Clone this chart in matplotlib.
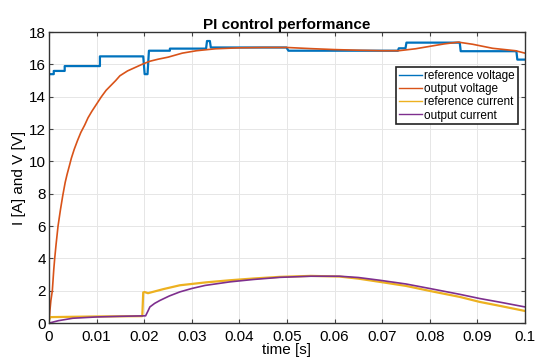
import numpy as np
import matplotlib.pyplot as plt

plt.rcParams['font.family'] = ['Liberation Sans', 'DejaVu Sans']

# reference voltage (stepwise)
t_vref = [0, 0.001, 0.001, 0.0033, 0.0033, 0.0107, 0.0107, 0.0198, 0.0201, 0.0207, 0.021,
          0.0254, 0.0254, 0.033, 0.0332, 0.0338, 0.034, 0.0499, 0.0503, 0.0733, 0.0735,
          0.0749, 0.0751, 0.0863, 0.0865, 0.0982, 0.0984, 0.1]
v_ref = [15.4, 15.4, 15.6, 15.6, 15.9, 15.9, 16.5, 16.5, 15.4, 15.4, 16.85,
         16.85, 16.98, 16.98, 17.45, 17.45, 17.05, 17.05, 16.85, 16.85, 17.0,
         17.0, 17.35, 17.35, 16.82, 16.82, 16.3, 16.3]

# output voltage
t_vout = [0, 0.0002, 0.0004, 0.0007, 0.001, 0.0012, 0.0015, 0.0019, 0.0024, 0.0029, 0.0034,
          0.0038, 0.0043, 0.0047, 0.0053, 0.006, 0.0067, 0.0075, 0.0082, 0.009, 0.01,
          0.011, 0.012, 0.013, 0.014, 0.0149, 0.0165, 0.018, 0.0195, 0.0212, 0.023, 0.025,
          0.028, 0.031, 0.035, 0.04, 0.045, 0.05, 0.055, 0.06, 0.065, 0.07, 0.0735, 0.077,
          0.08, 0.083, 0.086, 0.089, 0.0932, 0.098, 0.1]
v_out = [0, 0.8, 1.4, 2.0, 3.3, 4.0, 4.9, 6.0, 7.0, 7.9, 8.7,
         9.2, 9.75, 10.2, 10.75, 11.3, 11.8, 12.25, 12.7, 13.1, 13.55,
         14.0, 14.4, 14.7, 15.0, 15.3, 15.6, 15.8, 16.0, 16.2, 16.33, 16.45,
         16.7, 16.85, 16.97, 17.03, 17.05, 17.05, 16.98, 16.92, 16.88, 16.85, 16.85, 16.97,
         17.12, 17.27, 17.38, 17.25, 17.0, 16.85, 16.7]

# reference current
t_iref = [0, 0.0003, 0.005, 0.01, 0.015, 0.0196, 0.0198, 0.0201, 0.0208, 0.024, 0.0275,
          0.033, 0.038, 0.043, 0.0485, 0.055, 0.061, 0.065, 0.0695, 0.075, 0.08, 0.0863,
          0.0905, 0.095, 0.1]
i_ref = [0.2, 0.37, 0.39, 0.41, 0.42, 0.43, 1.9, 1.92, 1.85, 2.1, 2.34,
         2.52, 2.65, 2.76, 2.86, 2.92, 2.88, 2.75, 2.55, 2.3, 1.99, 1.62,
         1.31, 1.05, 0.75]

# output current
t_iout = [0, 0.002, 0.005, 0.01, 0.015, 0.0203, 0.0208, 0.0212, 0.0222, 0.0233, 0.0253,
          0.0275, 0.03, 0.0328, 0.038, 0.043, 0.0485, 0.055, 0.061, 0.065, 0.0695, 0.075,
          0.08, 0.0863, 0.0905, 0.095, 0.1]
i_out = [0, 0.15, 0.3, 0.38, 0.42, 0.45, 0.75, 1.0, 1.22, 1.4, 1.68,
         1.93, 2.14, 2.33, 2.55, 2.7, 2.83, 2.9, 2.9, 2.82, 2.65, 2.42,
         2.14, 1.78, 1.52, 1.28, 1.0]

fig = plt.figure(figsize=(5.36, 3.61), dpi=100)
ax = fig.add_axes([0.0914, 0.105, 0.888, 0.806])

ax.plot(t_vref, v_ref, color='#0072BD', lw=1.6, label='reference voltage')
ax.plot(t_vout, v_out, color='#D95319', lw=1.2, label='output voltage')
ax.plot(t_iref, i_ref, color='#EDB120', lw=1.6, label='reference current')
ax.plot(t_iout, i_out, color='#7E2F8E', lw=1.2, label='output current')

ax.set_xlim(0, 0.1)
ax.set_ylim(0, 18)
ax.set_xticks(np.arange(0, 0.101, 0.01))
ax.set_xticklabels(['0', '0.01', '0.02', '0.03', '0.04', '0.05', '0.06', '0.07', '0.08', '0.09', '0.1'])
ax.set_yticks(np.arange(0, 19, 2))
ax.tick_params(direction='in', labelsize=11, length=3, color='#444444',
               top=True, right=True)
ax.tick_params(axis='x', pad=5)
ax.tick_params(axis='y', pad=2)
ax.grid(True, color='#e6e6e6', lw=0.7)
for s in ax.spines.values():
    s.set_color('#333333')
    s.set_linewidth(1.0)

ax.set_title('PI control performance', fontsize=11, fontweight='bold', pad=2)
ax.set_xlabel('time [s]', fontsize=11, labelpad=-1)
ax.set_ylabel('I [A] and V [V]', fontsize=11, labelpad=2)

leg = ax.legend(loc='upper right', bbox_to_anchor=(0.985, 0.88), fontsize=8.5,
                handlelength=1.9, handletextpad=0.2, labelspacing=0.1,
                borderpad=0.25, borderaxespad=0, fancybox=False, framealpha=1)
leg.get_frame().set_edgecolor('#222222')
leg.get_frame().set_linewidth(1.2)
for line in leg.get_lines():
    line.set_linewidth(1.0)

fig.savefig('out.png', dpi=100)
